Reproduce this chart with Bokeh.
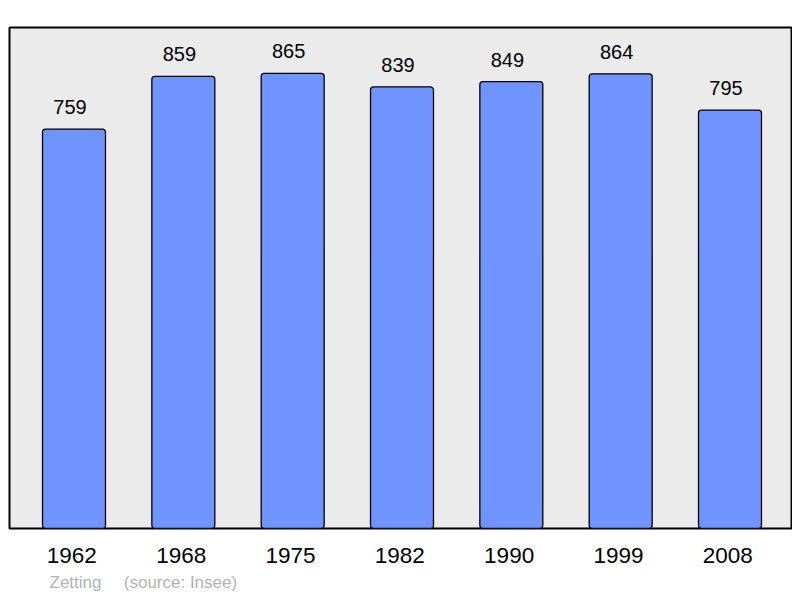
from bokeh.plotting import figure
from bokeh.models import ColumnDataSource, Range1d, FixedTicker, Title
from bokeh.core.properties import value
from bokeh.embed import file_html
from bokeh.resources import INLINE

years = ["1962", "1968", "1975", "1982", "1990", "1999", "2008"]
population = [759, 859, 865, 839, 849, 864, 795]
footer_text = "Zetting" + "\u00a0" * 4 + "\u2009" + "(source: Insee)"

idx = list(range(len(years)))
src = ColumnDataSource(dict(x=idx, top=population, label=[str(v) for v in population]))

p = figure(width=792, height=597, output_backend="svg", toolbar_location=None,
           x_range=Range1d(-0.59, 6.5625), y_range=Range1d(0, 952),
           min_border_left=9, min_border_right=1, min_border_top=27, min_border_bottom=62)
p.background_fill_color = "#ebebeb"
p.border_fill_color = "white"
p.outline_line_color = "black"
p.outline_line_width = 2
p.grid.visible = False
p.yaxis.visible = False

p.vbar(x="x", top="top", bottom=0, width=0.576, source=src,
       fill_color="#7094ff", line_color="black", line_width=1.3, border_radius=3)
p.text(x="x", y="top", text="label", source=src, text_align="center",
       text_baseline="alphabetic", x_offset=-4, y_offset=-22,
       text_font=value("Liberation Sans"),
       text_font_size="20px", text_color="black")

tick_pos = [i - 0.02 for i in idx]
ax = p.xaxis[0]
ax.ticker = FixedTicker(ticks=tick_pos)
ax.major_label_overrides = {t: y for t, y in zip(tick_pos, years)}
ax.axis_line_color = None
ax.major_tick_line_color = None
ax.minor_tick_line_color = None
ax.major_tick_out = 0
ax.major_tick_in = 0
ax.major_label_standoff = 19
ax.major_label_text_font = "Liberation Sans"
ax.major_label_text_font_size = "22.5px"
ax.major_label_text_color = "black"

p.add_layout(Title(text=footer_text, align="left", offset=40, standoff=11,
                   text_font="Liberation Sans", text_font_size="17px",
                   text_font_style="normal", text_color="#b3b3b3"), "below")

open("out.html", "w").write(file_html(p, INLINE))
